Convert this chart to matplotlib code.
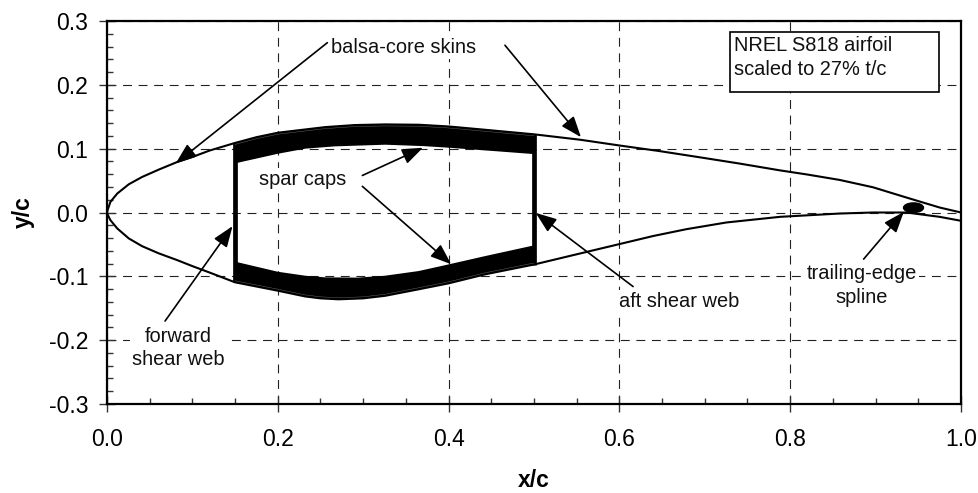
import matplotlib
matplotlib.use('Agg')
import matplotlib.pyplot as plt
import matplotlib.patches as mpatches
from matplotlib.transforms import offset_copy

plt.rcParams['font.family'] = ['Liberation Sans', 'DejaVu Sans']

# airfoil outline
upper_x = [0.0, 0.001, 0.004, 0.012, 0.0255, 0.041, 0.0606, 0.082, 0.1, 0.12, 0.15, 0.175, 0.2, 0.2556, 0.29, 0.3257, 0.365, 0.4, 0.4427, 0.5, 0.554, 0.6, 0.647, 0.694, 0.741, 0.788, 0.82, 0.858, 0.897, 0.936, 0.975, 1.0]
upper_y = [0.0, 0.005, 0.0166, 0.0297, 0.0442, 0.0556, 0.0672, 0.079, 0.087, 0.097, 0.109, 0.118, 0.125, 0.1338, 0.137, 0.138, 0.1375, 0.1348, 0.1296, 0.1225, 0.114, 0.105, 0.0962, 0.0865, 0.0766, 0.066, 0.0595, 0.051, 0.0395, 0.0235, 0.0078, 0.0]
lower_x = [0.0, 0.001, 0.004, 0.012, 0.0255, 0.041, 0.0606, 0.082, 0.1, 0.12, 0.15, 0.2, 0.232, 0.25, 0.271, 0.3, 0.3257, 0.365, 0.4, 0.4427, 0.5, 0.5655, 0.6, 0.639, 0.6786, 0.7254, 0.788, 0.858, 0.897, 0.936, 0.975, 1.0]
lower_y = [0.0, -0.004, -0.012, -0.025, -0.0406, -0.0527, -0.064, -0.0745, -0.084, -0.094, -0.1094, -0.1225, -0.1315, -0.1345, -0.136, -0.1345, -0.1305, -0.1203, -0.111, -0.0969, -0.0815, -0.0605, -0.0495, -0.037, -0.0261, -0.0156, -0.0068, -0.0016, 0.0, 0.0, -0.0068, -0.013]

# inner edges of the spar caps
cap_top_x = [0.15, 0.2, 0.232, 0.267, 0.3257, 0.3706, 0.4, 0.4427, 0.5]
cap_top_y = [0.077, 0.092, 0.1, 0.1036, 0.1062, 0.104, 0.1015, 0.0973, 0.0915]
cap_bot_x = [0.15, 0.2, 0.232, 0.2556, 0.294, 0.3257, 0.365, 0.4, 0.4427, 0.5]
cap_bot_y = [-0.077, -0.0928, -0.099, -0.1016, -0.102, -0.099, -0.0917, -0.0813, -0.0683, -0.0515]

web_x = [0.15, 0.5]
web_lo = [-0.1094, -0.0815]
web_hi = [0.109, 0.1225]

x_ticks = [0.0, 0.2, 0.4, 0.6, 0.8, 1.0]
y_ticks = [-0.3, -0.2, -0.1, 0.0, 0.1, 0.2, 0.3]
x_minor = [0.05, 0.1, 0.15, 0.25, 0.3, 0.35, 0.45, 0.5, 0.55, 0.65, 0.7, 0.75, 0.85, 0.9, 0.95]
y_minor = [-0.28, -0.26, -0.24, -0.22, -0.18, -0.16, -0.14, -0.12, -0.08, -0.06, -0.04, -0.02,
           0.02, 0.04, 0.06, 0.08, 0.12, 0.14, 0.16, 0.18, 0.22, 0.24, 0.26, 0.28]

# (tail x, tail y, tip x, tip y)
arrows = [
    (0.258, 0.266, 0.0805, 0.077),
    (0.466, 0.262, 0.555, 0.118),
    (0.299, 0.058, 0.370, 0.1015),
    (0.299, 0.041, 0.403, -0.081),
    (0.068, -0.17, 0.147, -0.0214),
    (0.616, -0.116, 0.502, -0.0006),
    (0.886, -0.073, 0.933, 0.001),
]
labels = [
    ('balsa-core skins', 0.347, 0.258),
    ('spar caps', 0.229, 0.052),
    ('forward\nshear web', 0.0836, -0.212),
    ('aft shear web', 0.67, -0.14),
    ('trailing-edge\nspline', 0.8835, -0.114),
]


def between(xs, ys, lo, hi):
    pts = [(a, b) for a, b in zip(xs, ys) if lo <= a <= hi]
    return [p[0] for p in pts], [p[1] for p in pts]


fig = plt.figure(figsize=(9.79, 4.93), dpi=100)
ax = fig.add_axes([107 / 979, 1 - 404 / 493, (961 - 107) / 979, (404 - 21) / 493])

ax.set_xlim(0, 1)
ax.set_ylim(-0.3, 0.3)
ax.set_xticks(x_ticks)
ax.set_yticks(y_ticks)
ax.set_xticks(x_minor, minor=True)
ax.set_yticks(y_minor, minor=True)
ax.set_xticklabels(['%.1f' % v for v in x_ticks])
ax.set_yticklabels(['%.1f' % v for v in y_ticks])
ax.grid(True, which='major', color='#222222', lw=0.8, dashes=(8, 6), zorder=0)
ax.set_axisbelow(True)
ax.tick_params(which='major', direction='inout', length=11, width=1.0, labelsize=16.5, pad=12, color='#333333')
ax.tick_params(axis='y', which='major', pad=8)
ax.tick_params(which='minor', direction='in', length=4.5, width=1.0, color='#333333')
for sp in ax.spines.values():
    sp.set_linewidth(1.6)
ax.set_xlabel('x/c', fontsize=16.5, fontweight='bold', labelpad=13)
ax.set_ylabel('y/c', fontsize=16.5, fontweight='bold', labelpad=10)

# spar caps
top_x, top_y = between(upper_x, upper_y, 0.15, 0.5)
bot_x, bot_y = between(lower_x, lower_y, 0.15, 0.5)
ax.fill(top_x + cap_top_x[::-1], top_y + cap_top_y[::-1], color='black', lw=0, zorder=3)
ax.fill(bot_x + cap_bot_x[::-1], bot_y + cap_bot_y[::-1], color='black', lw=0, zorder=3)

ax.plot(upper_x, upper_y, color='black', lw=1.5, zorder=4, solid_joinstyle='round')
ax.plot(lower_x, lower_y, color='black', lw=1.5, zorder=4, solid_joinstyle='round')

# thin light seam between skin and cap
ax.plot(top_x, top_y, color='#707070', lw=0.3, zorder=4.5,
        transform=offset_copy(ax.transData, fig=fig, y=-1.1, units='points'))
ax.plot(bot_x, bot_y, color='#707070', lw=0.3, zorder=4.5,
        transform=offset_copy(ax.transData, fig=fig, y=1.1, units='points'))
ax.vlines(web_x, web_lo, web_hi, color='black', lw=3.4, zorder=4)

# trailing-edge spline
ax.add_patch(mpatches.Ellipse((0.9444, 0.0075), 0.0234, 0.015, color='black', zorder=4))

for tx, ty, hx, hy in arrows:
    ax.annotate('', xy=(hx, hy), xytext=(tx, ty), zorder=5,
                arrowprops=dict(arrowstyle='-|>,head_length=0.85,head_width=0.32', mutation_scale=15,
                                color='black', lw=1.2, shrinkA=0, shrinkB=0))

for txt, lx, ly in labels:
    ax.text(lx, ly, txt, ha='center', va='center', fontsize=14.4, color='#111111', linespacing=1.3,
            bbox=dict(facecolor='white', edgecolor='none', pad=1.5), zorder=2)

# note box
ax.add_patch(mpatches.Rectangle((0.730, 0.188), 0.244, 0.094, facecolor='white', edgecolor='black', lw=1.2, zorder=6))
ax.text(0.7345, 0.2427, 'NREL S818 airfoil\nscaled to 27% t/c', ha='left', va='center', fontsize=14.4,
        color='#111111', linespacing=1.3, zorder=7)

plt.savefig('out.png', dpi=100)
plt.close()
